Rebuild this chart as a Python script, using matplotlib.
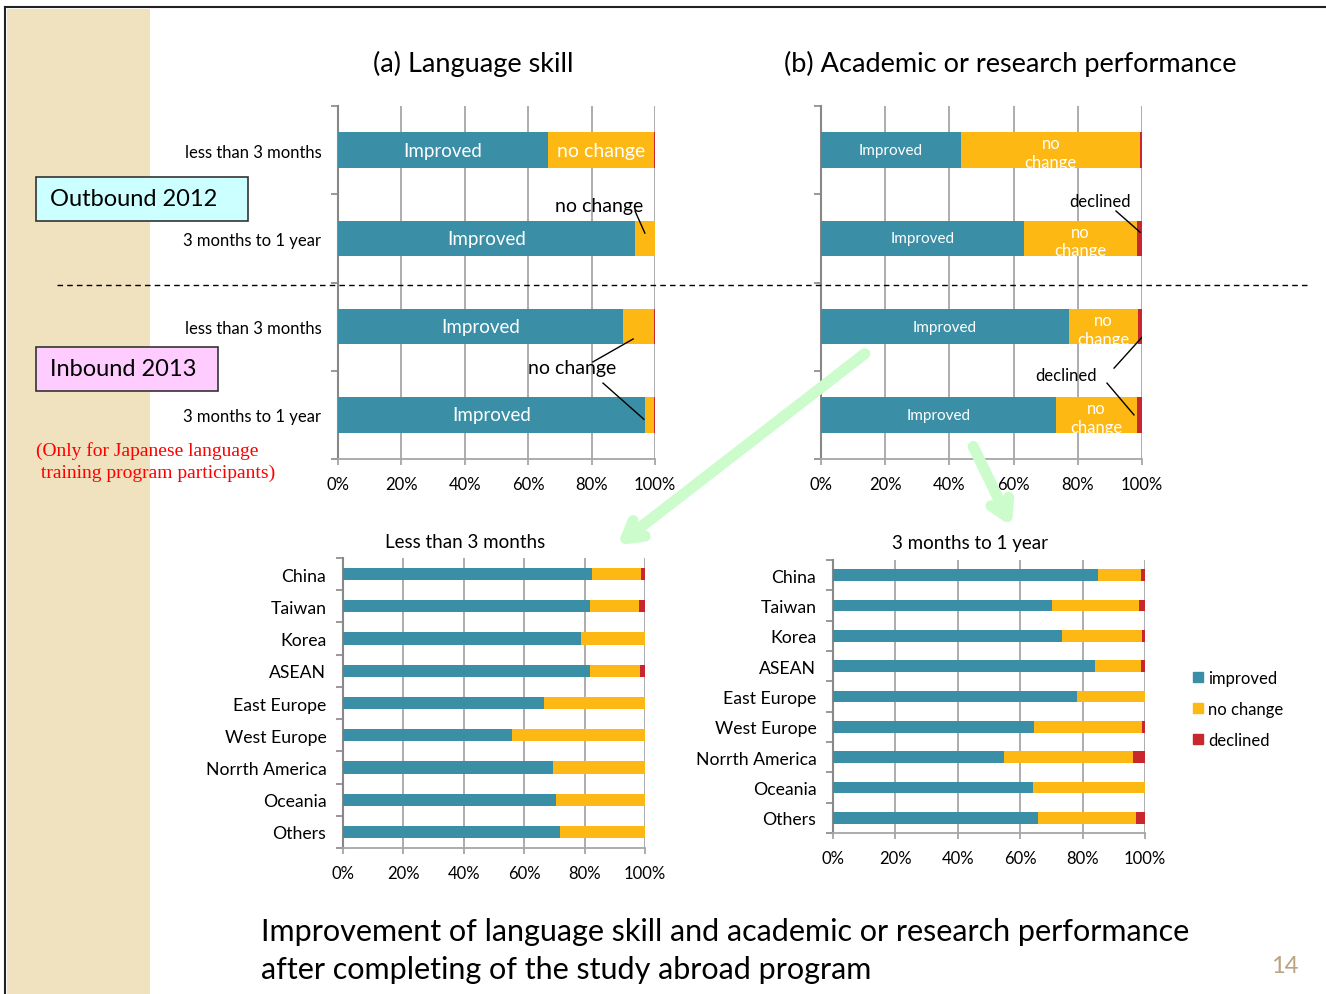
import numpy as np
import matplotlib
matplotlib.use("Agg")
import matplotlib.pyplot as plt
from matplotlib.patches import Rectangle, Patch, FancyArrowPatch
from matplotlib.lines import Line2D

plt.rcParams['font.family'] = ['Lato', 'DejaVu Sans']

W, H = 1326, 995

# data (percent)
periods = ["less than 3 months", "3 months to 1 year", "less than 3 months", "3 months to 1 year"]
lang_improved = [66.3, 93.7, 89.8, 96.8]
lang_nochange = [33.4, 6.3, 9.9, 2.8]
lang_declined = [0.3, 0.0, 0.3, 0.4]
acad_improved = [43.7, 63.3, 77.3, 73.3]
acad_nochange = [55.8, 35.1, 21.5, 25.1]
acad_declined = [0.5, 1.6, 1.2, 1.6]

regions = ["China", "Taiwan", "Korea", "ASEAN", "East Europe", "West Europe",
           "Norrth America", "Oceania", "Others"]
short_improved = [82.3, 81.9, 78.7, 81.9, 66.6, 56.0, 69.4, 70.4, 71.7]
short_nochange = [16.3, 16.1, 21.3, 16.3, 33.4, 44.0, 30.6, 29.6, 28.3]
short_declined = [1.4, 2.0, 0.0, 1.8, 0.0, 0.0, 0.0, 0.0, 0.0]
long_improved = [85.0, 70.2, 73.4, 83.9, 78.3, 64.5, 54.8, 64.2, 65.7]
long_nochange = [13.8, 28.0, 25.6, 14.7, 21.7, 34.6, 41.2, 35.8, 31.5]
long_declined = [1.2, 1.8, 1.0, 1.4, 0.0, 0.9, 4.0, 0.0, 2.8]

teal = '#3a8fa6'
orange = '#fdb813'
red = '#c8282d'
grid_c = '#a6a6a6'


def rect(x0, y0, x1, y1):
    return [x0 / W, 1 - y1 / H, (x1 - x0) / W, (y1 - y0) / H]


def fx(px):
    return px / W


def fy(py):
    return 1 - py / H


fig = plt.figure(figsize=(W / 100, H / 100), dpi=100)
fig.patch.set_facecolor('white')

# slide decoration
fig.patches.append(Rectangle((fx(7), 0), fx(150) - fx(7), fy(10), transform=fig.transFigure,
                             facecolor='#f0e1bf', edgecolor='none', zorder=0))
fig.lines.append(Line2D([fx(5), 1], [fy(8), fy(8)], transform=fig.transFigure, color='#222222', lw=1.5))
fig.lines.append(Line2D([fx(5), fx(5)], [fy(8), 0], transform=fig.transFigure, color='#222222', lw=1.5))


def style_axes(ax, n, labels, label_size, xsize):
    ax.set_xlim(0, 100)
    ax.set_ylim(n - 0.5, -0.5)
    ax.set_xticks(np.arange(0, 101, 20))
    ax.set_xticklabels([f"{v}%" for v in range(0, 101, 20)], fontsize=xsize)
    ax.set_yticks(range(n))
    if labels is None:
        ax.set_yticklabels([])
    else:
        ax.set_yticklabels(labels, fontsize=label_size)
    ax.set_yticks(np.arange(-0.5, n), minor=True)
    ax.tick_params(axis='y', which='major', length=0, pad=12)
    ax.tick_params(axis='y', which='minor', length=5, color='#888888', width=1.2)
    ax.tick_params(axis='x', length=4, color=grid_c, width=1.3, pad=8)
    ax.grid(axis='x', color=grid_c, lw=1.3)
    ax.set_axisbelow(True)
    for s in ['top', 'right']:
        ax.spines[s].set_visible(False)
    ax.spines['left'].set_color('#888888')
    ax.spines['left'].set_linewidth(1.5)
    ax.spines['bottom'].set_color(grid_c)
    ax.spines['bottom'].set_linewidth(1.3)


def stacked(ax, imp, nc, dec, height):
    y = np.arange(len(imp))
    imp = np.array(imp)
    nc = np.array(nc)
    dec = np.array(dec)
    b1 = ax.barh(y, imp, height=height, color=teal, edgecolor='none', zorder=3)
    b2 = ax.barh(y, nc, left=imp, height=height, color=orange, edgecolor='none', zorder=3)
    b3 = ax.barh(y, dec, left=imp + nc, height=height, color=red, edgecolor='none', zorder=3)
    return b1, b2, b3


# (a) language skill
ax_a = fig.add_axes(rect(338, 107, 655, 460))
style_axes(ax_a, 4, periods, 12, 12)
ba = stacked(ax_a, lang_improved, lang_nochange, lang_declined, 0.4)
for i, v in enumerate(lang_improved):
    ax_a.text(v / 2, i, "Improved", color='white', fontsize=13.5, ha='center', va='center', zorder=4)
ax_a.text(lang_improved[0] + lang_nochange[0] / 2, 0, "no change", color='white', fontsize=14,
          ha='center', va='center', zorder=4)
ax_a.text(82.3, 0.63, "no change", fontsize=14, ha='center', va='center', zorder=4)
ax_a.plot([93.7, 96.8], [0.69, 0.94], color='black', lw=1, zorder=5)
ax_a.text(73.8, 2.46, "no change", fontsize=14, ha='center', va='center', zorder=4)
ax_a.plot([80.4, 93.1], [2.40, 2.14], color='black', lw=1, zorder=5)
ax_a.plot([83.6, 96.5], [2.64, 3.05], color='black', lw=1, zorder=5)

# (b) academic or research performance
ax_b = fig.add_axes(rect(821, 107, 1142, 460))
style_axes(ax_b, 4, None, 12, 12)
bb = stacked(ax_b, acad_improved, acad_nochange, acad_declined, 0.4)
for i, v in enumerate(acad_improved):
    ax_b.text(v / 2, i, "Improved", color='white', fontsize=11, ha='center', va='center', zorder=4)
    t = ax_b.text(v + acad_nochange[i] / 2, i + 0.03, "no\nchange", color='white', fontsize=12,
                  ha='center', va='center', linespacing=1.2, zorder=4)
    t.set_clip_path(bb[1][i])
ax_b.text(86.9, 0.58, "declined", fontsize=12, ha='center', va='center', zorder=4)
ax_b.plot([91.9, 99.4], [0.69, 0.93], color='black', lw=1, zorder=5)
ax_b.text(76.3, 2.55, "declined", fontsize=12, ha='center', va='center', zorder=4)
ax_b.plot([91.3, 100], [2.47, 2.12], color='black', lw=1, zorder=5)
ax_b.plot([89.1, 97.5], [2.64, 3.0], color='black', lw=1, zorder=5)

fig.text(fx(473), fy(64), "(a) Language skill", fontsize=19.5, ha='center', va='center')
fig.text(fx(1010), fy(64), "(b) Academic or research performance", fontsize=19.5, ha='center', va='center')

# separator between outbound and inbound
fig.lines.append(Line2D([fx(57), fx(1310)], [fy(286), fy(286)], transform=fig.transFigure,
                        color='black', lw=1, ls=(0, (4, 3))))

# group boxes
fig.patches.append(Rectangle((fx(36), fy(222)), fx(248) - fx(36), fy(178) - fy(222),
                             transform=fig.transFigure, facecolor='#ccffff', edgecolor='#333333', lw=1.2))
fig.text(fx(50), fy(200), "Outbound 2012", fontsize=17, va='center', ha='left')
fig.patches.append(Rectangle((fx(36), fy(392)), fx(218) - fx(36), fy(348) - fy(392),
                             transform=fig.transFigure, facecolor='#ffccff', edgecolor='#333333', lw=1.2))
fig.text(fx(50), fy(370), "Inbound 2013", fontsize=17, va='center', ha='left')
fig.text(fx(36), fy(462), "(Only for Japanese language\n training program participants)",
         fontsize=14, color='red', family='Liberation Serif', va='center', ha='left', linespacing=1.3)

# by region
ax_c = fig.add_axes(rect(343, 559, 645, 849))
style_axes(ax_c, 9, regions, 12.7, 12)
stacked(ax_c, short_improved, short_nochange, short_declined, 0.38)
fig.text(fx(465), fy(543), "Less than 3 months", fontsize=13.5, ha='center', va='center')

ax_d = fig.add_axes(rect(833, 561, 1145, 834))
style_axes(ax_d, 9, regions, 12.7, 12)
stacked(ax_d, long_improved, long_nochange, long_declined, 0.39)
fig.text(fx(970), fy(543), "3 months to 1 year", fontsize=13.5, ha='center', va='center')

handles = [Patch(color=teal), Patch(color=orange), Patch(color=red)]
fig.legend(handles, ["improved", "no change", "declined"], loc='upper left',
           bbox_to_anchor=(fx(1178), fy(656)), frameon=False, fontsize=12,
           handlelength=0.6, handleheight=0.6, handletextpad=0.3, labelspacing=0.9)

# green arrows from the top panels to the regional breakdown
fig.add_artist(FancyArrowPatch((fx(867), fy(353)), (fx(615), fy(548)),
               transform=fig.transFigure, arrowstyle='->,head_length=12,head_width=7',
               mutation_scale=1, color='#ccfccc', lw=8))
fig.add_artist(FancyArrowPatch((fx(972), fy(445)), (fx(1013), fy(530)),
               transform=fig.transFigure, arrowstyle='->,head_length=12,head_width=7',
               mutation_scale=1, color='#ccfccc', lw=8))

fig.text(fx(261), fy(951), "Improvement of language skill and academic or research performance\n"
         "after completing of the study abroad program", fontsize=22, ha='left', va='center',
         linespacing=1.42)
fig.text(fx(1285), fy(967), "14", fontsize=17, color='#b8a47e', ha='center', va='center')

fig.savefig("out.png", dpi=100)
